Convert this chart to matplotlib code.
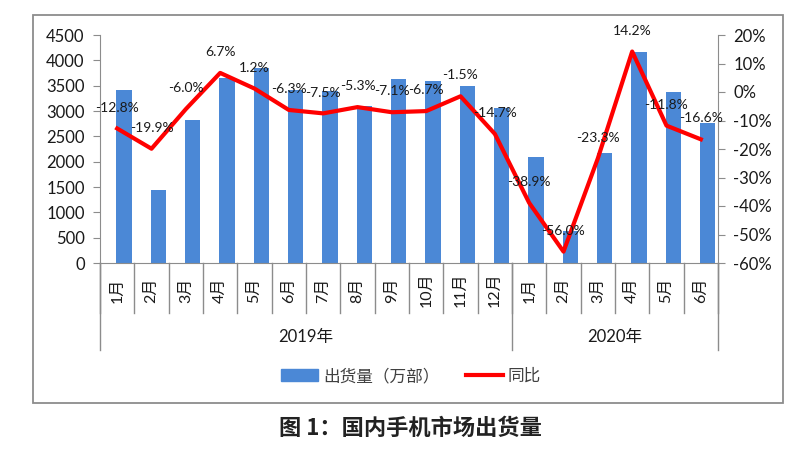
import matplotlib
matplotlib.use("Agg")
import matplotlib.pyplot as plt
from matplotlib.patches import Rectangle
from matplotlib.lines import Line2D
from matplotlib.ticker import FuncFormatter

plt.rcParams['font.family'] = ['Lato', 'Noto Sans CJK SC', 'DejaVu Sans']
plt.rcParams['axes.unicode_minus'] = False

# data
months = ["1月", "2月", "3月", "4月", "5月", "6月", "7月", "8月", "9月",
          "10月", "11月", "12月", "1月", "2月", "3月", "4月", "5月", "6月"]
years = ["2019年", "2020年"]
year_sizes = [12, 6]
shipments = [3410, 1450, 2830, 3660, 3840, 3420, 3400, 3100, 3630,
             3600, 3490, 3060, 2090, 640, 2180, 4170, 3380, 2760]
yoy = [-12.8, -19.9, -6.0, 6.7, 1.2, -6.3, -7.5, -5.3, -7.1,
       -6.7, -1.5, -14.7, -38.9, -56.0, -23.3, 14.2, -11.8, -16.6]

bar_color = "#4b88d6"
line_color = "#ff0000"
grey = "#8c8c8c"
text_color = "#1a1a1a"

fig = plt.figure(figsize=(8.02, 4.51), dpi=100)
ax = fig.add_axes([100 / 802, 1 - 263 / 451, 618 / 802, 228 / 451])
ax2 = ax.twinx()

x = list(range(len(months)))
ax.bar([i + 0.2 for i in x], shipments, width=0.45, color=bar_color, zorder=2)
ax.set_xlim(-0.5, len(months) - 0.5)
ax.set_ylim(0, 4500)
ax.set_yticks(range(0, 4501, 500))
ax.set_xticks([])

ax2.plot(x, yoy, color=line_color, lw=3, solid_joinstyle="round", zorder=3)
ax2.set_ylim(-60, 20)
ax2.set_yticks(range(-60, 21, 10))
ax2.yaxis.set_major_formatter(FuncFormatter(lambda v, p: f"{int(v)}%"))

for a in (ax, ax2):
    for s in a.spines.values():
        s.set_color(grey)
    a.spines["top"].set_visible(False)
    a.tick_params(colors=grey, labelcolor=text_color, labelsize=12,
                  length=5, pad=6)
ax.spines["right"].set_visible(False)
ax2.spines["left"].set_visible(False)
ax2.spines["bottom"].set_visible(False)

for i, v in enumerate(yoy):
    ax2.annotate(f"{v:.1f}%", (i, v), xytext=(0, 15), textcoords="offset points",
                 ha="center", va="center", fontsize=10, color=text_color, zorder=4)

# category axis: month labels, separators, year groups
trans = ax.get_xaxis_transform()
for i, m in enumerate(months):
    ax.text(i, -0.118, m, rotation=90, ha="center", va="center",
            fontsize=11.5, color=text_color, transform=trans)
for i in range(len(months) + 1):
    ax.plot([i - 0.5, i - 0.5], [0, -0.219], color=grey, lw=1,
            transform=trans, clip_on=False)
start = 0
for name, n in zip(years, year_sizes):
    ax.plot([start - 0.5, start - 0.5], [0, -0.382], color=grey, lw=1,
            transform=trans, clip_on=False)
    ax.text(start + n / 2 - 0.5, -0.325, name, ha="center", va="center",
            fontsize=12, color=text_color, transform=trans)
    start += n
ax.plot([start - 0.5, start - 0.5], [0, -0.382], color=grey, lw=1,
        transform=trans, clip_on=False)

handles = [Rectangle((0, 0), 1, 1, color=bar_color),
           Line2D([0], [0], color=line_color, lw=3)]
fig.legend(handles, ["出货量（万部）", "同比"], ncol=2, frameon=False,
           loc="center", bbox_to_anchor=(411 / 802, 1 - 376 / 451),
           fontsize=12, handlelength=2.2, handletextpad=0.3, columnspacing=1.6,
           labelcolor="#404040")

# outer chart frame
fig.patches.append(Rectangle((33 / 802, 1 - 403 / 451), 750 / 802, 388 / 451,
                             transform=fig.transFigure, fill=False,
                             edgecolor=grey, lw=1.3))

fig.text(410 / 802, 1 - 428 / 451, "图 1：国内手机市场出货量", ha="center",
         va="center", fontsize=16, fontweight="bold", color="#222222",
         family=["Noto Sans CJK SC", "DejaVu Sans"])

fig.savefig("out.png", dpi=100)
